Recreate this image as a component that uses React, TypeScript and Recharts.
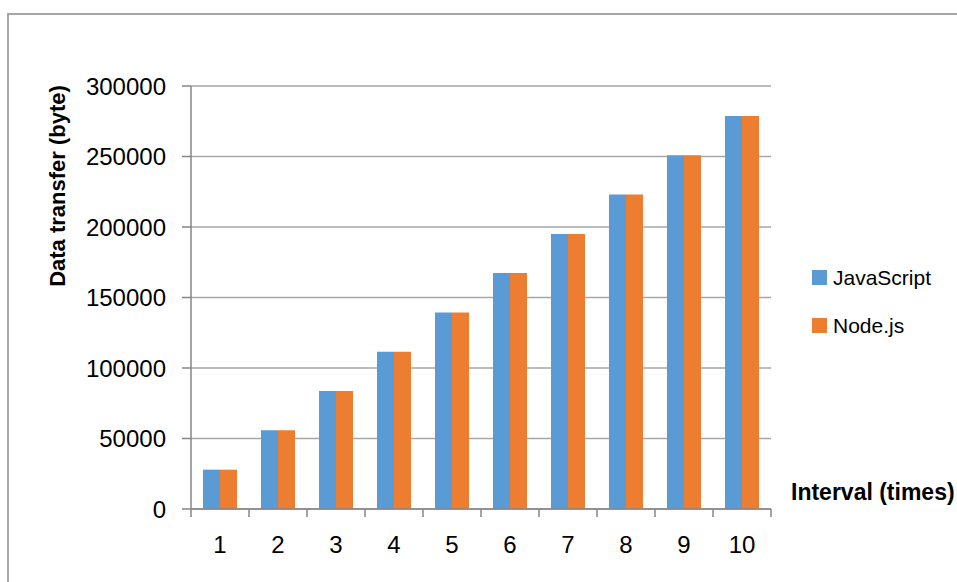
import { BarChart, Bar, XAxis, YAxis, CartesianGrid } from "recharts"

const intervals = ["1", "2", "3", "4", "5", "6", "7", "8", "9", "10"]
const javascriptBytes = [27900, 55800, 83600, 111500, 139400, 167300, 195100, 223000, 250800, 278700]
const nodeBytes = [27900, 55800, 83600, 111500, 139400, 167300, 195100, 223000, 250800, 278700]
const yTicks = [0, 50000, 100000, 150000, 200000, 250000, 300000]

const BLUE = "#5B9BD5"
const ORANGE = "#ED7D31"
const AXIS = "#868686"
const FONT = "'Liberation Sans', Arial, sans-serif"

const chartData = intervals.map((name, i) => ({
  name,
  javascript: javascriptBytes[i],
  node: nodeBytes[i],
}))

interface TickProps {
  x?: number
  y?: number
  index?: number
  payload?: { value: string; offset?: number }
}

// Excel puts the tick marks between categories, not under them
function IntervalTick({ x = 0, y = 0, index = 0, payload }: TickProps) {
  const half = payload?.offset || 29
  return (
    <g>
      <line x1={x - half} x2={x - half} y1={y} y2={y + 8} stroke={AXIS} strokeWidth={1.5} />
      {index === intervals.length - 1 && (
        <line x1={x + half} x2={x + half} y1={y} y2={y + 8} stroke={AXIS} strokeWidth={1.5} />
      )}
      <text x={x} y={y + 44} textAnchor="middle" fill="#000" fontSize={24} fontFamily={FONT}>
        {payload?.value}
      </text>
    </g>
  )
}

const legendItems = [
  { label: "JavaScript", color: BLUE, top: 270 },
  { label: "Node.js", color: ORANGE, top: 318 },
]

export default function App() {
  return (
    <div
      style={{
        position: "absolute",
        left: 0,
        top: 0,
        width: 957,
        height: 582,
        overflow: "hidden",
        background: "#fff",
        fontFamily: FONT,
      }}
    >
      <div
        style={{
          position: "absolute",
          left: 7,
          top: 13,
          width: 1000,
          height: 700,
          border: "2px solid #a6a6a6",
        }}
      />
      <div style={{ position: "absolute", left: 0, top: 0 }}>
        <BarChart
          width={957}
          height={582}
          data={chartData}
          margin={{ top: 86, right: 186, left: 0, bottom: 0 }}
          barGap={0}
          barSize={17}
        >
          <CartesianGrid vertical={false} stroke="#a6a6a6" strokeWidth={1.5} />
          <XAxis
            dataKey="name"
            height={73}
            axisLine={{ stroke: AXIS, strokeWidth: 1.5 }}
            tickLine={false}
            tickSize={0}
            tickMargin={0}
            interval={0}
            tick={<IntervalTick />}
          />
          <YAxis
            width={191}
            domain={[0, 300000]}
            ticks={yTicks}
            interval={0}
            axisLine={{ stroke: AXIS, strokeWidth: 1.5 }}
            tickLine={{ stroke: AXIS, strokeWidth: 1.5 }}
            tickSize={9}
            tickMargin={16}
            tick={{ fill: "#000", fontSize: 24, fontFamily: FONT }}
          />
          <Bar dataKey="javascript" name="JavaScript" fill={BLUE} isAnimationActive={false} />
          <Bar dataKey="node" name="Node.js" fill={ORANGE} isAnimationActive={false} />
        </BarChart>
      </div>

      <div
        style={{
          position: "absolute",
          left: 58,
          top: 186,
          transform: "translate(-50%, -50%) rotate(-90deg)",
          whiteSpace: "nowrap",
          fontWeight: "bold",
          fontSize: 22,
          lineHeight: 1,
          color: "#000",
        }}
      >
        Data transfer (byte)
      </div>
      <div
        style={{
          position: "absolute",
          left: 791,
          top: 481,
          whiteSpace: "nowrap",
          fontWeight: "bold",
          fontSize: 23,
          lineHeight: 1,
          color: "#000",
        }}
      >
        Interval (times)
      </div>

      {legendItems.map((item) => (
        <div
          key={item.label}
          style={{
            position: "absolute",
            left: 812,
            top: item.top - 3,
            display: "flex",
            alignItems: "center",
            fontSize: 21,
            lineHeight: 1,
            color: "#000",
          }}
        >
          <span style={{ width: 15, height: 15, background: item.color, marginRight: 6 }} />
          {item.label}
        </div>
      ))}
    </div>
  )
}
